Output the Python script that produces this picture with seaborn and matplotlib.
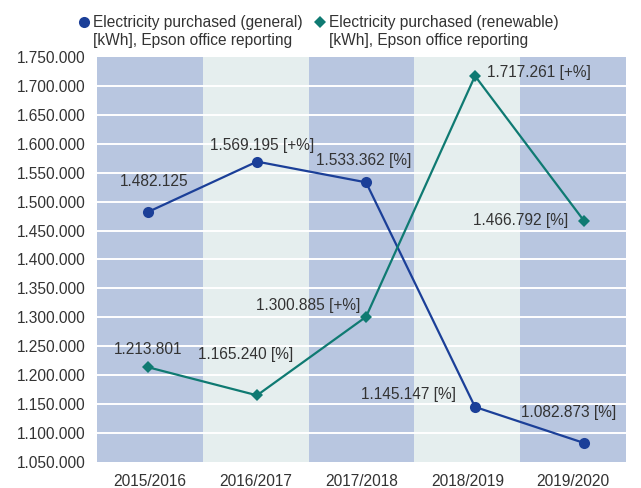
import matplotlib
matplotlib.use("Agg")
import matplotlib.pyplot as plt
from matplotlib.lines import Line2D
import seaborn as sns
import pandas as pd
import numpy as np

# ---- data ----
years = ["2015/2016", "2016/2017", "2017/2018", "2018/2019", "2019/2020"]
general = [1482125, 1569195, 1533362, 1145147, 1082873]
renewable = [1213801, 1165240, 1300885, 1717261, 1466792]
general_suffix = ["", " [+%]", " [%]", " [%]", " [%]"]
renewable_suffix = ["", " [%]", " [+%]", " [+%]", " [%]"]
legend_general = ["Electricity purchased (general)", "[kWh], Epson office reporting"]
legend_renew = ["Electricity purchased (renewable)", "[kWh], Epson office reporting"]
y_ticks = list(range(1050000, 1750001, 50000))

# ---- style ----
BLUE = "#1B3F98"
TEAL = "#0F7A72"
BAND_A = "#B8C6E0"
BAND_B = "#E5EEEE"
TXT = "#333333"
FONT = ["Liberation Sans", "DejaVu Sans"]
FS = 11.2

sns.set_style("white")
plt.rcParams["font.family"] = FONT

fig = plt.figure(figsize=(6.41, 4.88), dpi=100)
ax = fig.add_axes([97 / 641, 1 - 462 / 488, 529 / 641, 405 / 488])

df = pd.DataFrame({"x": np.arange(len(years)), "general": general, "renewable": renewable})

xlim = (-0.468, 4.385)
ax.set_xlim(*xlim)
ax.set_ylim(1050000, 1750000)

# background bands
edges = np.linspace(xlim[0], xlim[1], len(years) + 1)
for i in range(len(years)):
    ax.axvspan(edges[i], edges[i + 1], color=BAND_A if i % 2 == 0 else BAND_B, zorder=0, lw=0)
centers = (edges[:-1] + edges[1:]) / 2

for v in y_ticks[1:-1]:
    ax.axhline(v, color="white", lw=1.4, zorder=1)

sns.lineplot(data=df, x="x", y="general", ax=ax, color=BLUE, lw=1.6,
             marker="o", markersize=8, markeredgewidth=0, zorder=3)
sns.lineplot(data=df, x="x", y="renewable", ax=ax, color=TEAL, lw=1.6,
             marker="D", markersize=6, markeredgewidth=0, zorder=3)

def fmt(v):
    return f"{v:,.0f}".replace(",", ".")

# label offsets in pixels (dx, dy, ha)
g_off = [(6, 30, "center"), (5, 16, "center"), (-2, 22, "center"), (-19, 12, "right"), (-15, 30, "center")]
r_off = [(0, 18, "center"), (-11, 41, "center"), (-6, 11, "right"), (12, 3, "left"), (-16, 0, "right")]

for i, (v, s) in enumerate(zip(general, general_suffix)):
    dx, dy, ha = g_off[i]
    ax.annotate(fmt(v) + s, (i, v), xytext=(dx, dy), textcoords="offset pixels",
                ha=ha, va="center", fontsize=FS, color=TXT, zorder=4)
for i, (v, s) in enumerate(zip(renewable, renewable_suffix)):
    dx, dy, ha = r_off[i]
    ax.annotate(fmt(v) + s, (i, v), xytext=(dx, dy), textcoords="offset pixels",
                ha=ha, va="center", fontsize=FS, color=TXT, zorder=4)

ax.set_xticks(centers)
ax.set_xticklabels(years)
ax.set_yticks(y_ticks)
ax.set_yticklabels([fmt(v) for v in y_ticks])
ax.tick_params(axis="both", length=0, labelsize=FS, labelcolor=TXT)
ax.tick_params(axis="y", pad=8)
ax.tick_params(axis="x", pad=9)
ax.set_xlabel("")
ax.set_ylabel("")
for s in ax.spines.values():
    s.set_visible(False)

# legend (manual)
fig.add_artist(Line2D([84 / 641], [1 - 22 / 488], marker="o", color=BLUE, markersize=8,
                      markeredgewidth=0, transform=fig.transFigure))
fig.add_artist(Line2D([320 / 641], [1 - 22 / 488], marker="D", color=TEAL, markersize=6,
                      markeredgewidth=0, transform=fig.transFigure))
for xpx, lines in ((93, legend_general), (329, legend_renew)):
    for j, line in enumerate(lines):
        fig.text(xpx / 641, 1 - (22 + 18 * j) / 488, line, ha="left", va="center",
                 fontsize=FS, color=TXT)

fig.savefig("out.png", dpi=100)
